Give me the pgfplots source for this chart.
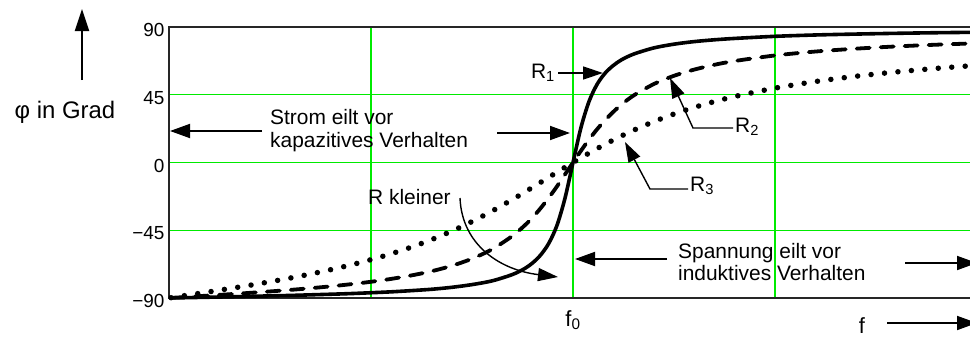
\documentclass[border=0pt]{standalone}
\usepackage{fontspec}
\setmainfont{Liberation Sans}
\usepackage{pgfplots}
\usepackage{pgfplotstable}
\pgfplotsset{compat=1.18}
\usetikzlibrary{arrows.meta}
\definecolor{gridgreen}{RGB}{0,235,0}

% Phasenwinkel phi (Grad) ueber f/f0 fuer drei Widerstaende R1 < R2 < R3
\pgfplotstableread{
r      rone    rtwo    rthree
0.005  -89.97  -89.92  -89.80
0.02   -89.90  -89.67  -89.18
0.05   -89.74  -89.18  -87.95
0.10   -89.47  -88.35  -85.87
0.15   -89.20  -87.49  -83.74
0.20   -88.90  -86.59  -81.54
0.25   -88.60  -85.64  -79.22
0.30   -88.30  -84.62  -76.75
0.35   -87.90  -83.50  -74.10
0.40   -87.50  -82.25  -71.20
0.45   -87.06  -80.84  -68.05
0.50   -86.50  -79.22  -64.54
0.55   -85.90  -77.30  -60.60
0.60   -85.10  -75.00  -56.19
0.65   -84.20  -72.20  -51.20
0.70   -82.90  -68.60  -45.56
0.75   -81.10  -63.90  -39.23
0.80   -78.60  -57.60  -32.20
0.85   -74.40  -48.80  -24.57
0.88   -70.50  -41.90  -19.75
0.90   -66.70  -36.50  -16.46
0.92   -61.40  -30.30  -13.16
0.94   -53.70  -23.40   -9.83
0.96   -42.00  -16.00   -6.53
0.98   -23.90   -8.00   -3.24
1.00     0.00    0.00    0.00
1.02    23.50    7.90    3.17
1.04    40.80   15.40    6.27
1.06    52.10   22.20    9.27
1.08    59.50   28.30   12.17
1.10    64.50   33.70   14.96
1.12    68.20   38.50   17.64
1.15    72.00   44.50   21.43
1.20    76.10   52.10   27.17
1.25    78.60   57.60   32.20
1.30    80.30   61.70   36.62
1.35    81.50   64.90   40.46
1.40    82.40   67.40   43.83
1.50    83.80   71.10   49.40
1.60    84.70   73.70   53.77
1.70    85.30   75.60   57.28
1.80    85.80   77.10   60.14
1.90    86.20   78.25   62.53
2.00    86.50   79.20   64.54
}\phasedata

\tikzset{
  pfeil/.style={line width=1.8bp, -{Triangle[length=20bp,width=14bp]}},
  dünn/.style={line width=1.4bp, -{Triangle[length=20bp,width=13bp]}},
  txt/.style={font=\fontsize{21}{23}\selectfont, inner sep=0pt},
}

\begin{document}
\begin{tikzpicture}
\begin{axis}[
  at={(169bp,-298bp)}, anchor=south west,
  scale only axis, width=808bp, height=271bp,
  xmin=0, xmax=2, ymin=-90, ymax=90,
  clip=false,
  xtick={0.5,1,1.5}, xticklabels={{},{f\textsubscript{0}},{}},
  ytick={-90,-45,0,45,90}, yticklabels={−90,−45,0,45,90},
  major tick length=0pt,
  grid=major,
  major grid style={draw=gridgreen, line width=1.1bp},
  axis line style={line width=1.6bp, black!85},
  xticklabel style={font=\fontsize{22}{24}\selectfont, yshift=-9bp},
  yticklabel style={font=\fontsize{19}{21}\selectfont, xshift=-1bp, yshift=-3bp},
]
\addplot[black, line width=3.6bp, smooth] table[x=r, y=rone] {\phasedata};
\addplot[black, line width=3.8bp, line cap=round, dash pattern=on 13bp off 11bp, smooth] table[x=r, y=rtwo] {\phasedata};
\addplot[black, line width=5.5bp, line cap=round, dash pattern=on 0bp off 13.5bp, smooth] table[x=r, y=rthree] {\phasedata};
\end{axis}

\begin{scope}[x=1bp, y=-1bp]
  % Achsbeschriftung links
  \draw[line width=2bp, -{Triangle[length=22bp,width=14bp]}] (82,80) -- (82,9);
  \node[font=\fontsize{24}{26}\selectfont, inner sep=0pt] at (65,112) {φ in Grad};

  % kapazitiver Bereich
  \node[txt, anchor=west, align=left] at (270,131) {Strom eilt vor\\kapazitives Verhalten};
  \draw[pfeil] (262,131) -- (170,131);
  \draw[pfeil] (497,133) -- (570,133);

  % induktiver Bereich
  \node[txt, anchor=west, align=left] at (678,262) {Spannung eilt vor\\induktives Verhalten};
  \draw[pfeil] (667,259) -- (575,259);
  \draw[pfeil] (905,263) -- (977,263);

  % Kurvenbezeichnungen
  \node[txt, anchor=east] at (555,73) {R\textsubscript{1}};
  \draw[dünn] (558,73) -- (603,73);
  \node[txt, anchor=west] at (735,127) {R\textsubscript{2}};
  \draw[dünn] (733,128) -- (693,128) -- (670,78);
  \node[txt, anchor=west] at (690,186) {R\textsubscript{3}};
  \draw[dünn] (688,189) -- (650,189) -- (625,142);

  \node[txt, anchor=west] at (368,197) {R kleiner};
  \draw[dünn] (460,198) .. controls (462,245) and (500,270) .. (558,277);

  % Frequenzachse
  \node[font=\fontsize{22}{24}\selectfont, inner sep=0pt] at (862,326) {f};
  \draw[pfeil] (887,323) -- (977,323);
\end{scope}

\pgfresetboundingbox
\path[use as bounding box] (0,0) rectangle (970bp,-338bp);
\end{tikzpicture}
\end{document}
